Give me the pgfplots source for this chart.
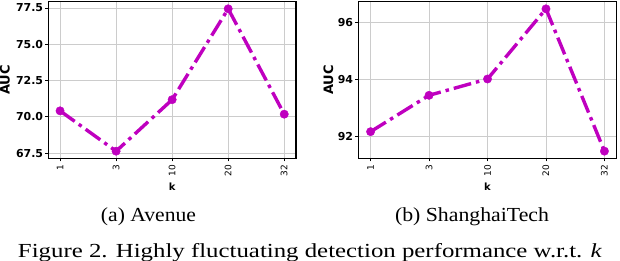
\documentclass[border=0pt]{standalone}
\usepackage{fontspec}
\setmainfont{Liberation Serif}
\newfontfamily\dvs{DejaVu Sans}
\usepackage{graphicx}
\usepackage{pgfplots}
\pgfplotsset{compat=1.18}
\definecolor{mag}{rgb}{0.75,0,0.75}
\pgfplotsset{
  myax/.style={
    scale only axis, height=156.6bp, anchor=south west,
    xmin=-0.21, xmax=4.21, xtick={0,1,2,3,4}, xticklabels={1,3,10,20,32},
    grid=major, major grid style={gray!40, line width=0.7bp},
    axis line style={line width=1.2bp},
    tick style={black, line width=0.7bp}, tick align=outside, major tick length=3bp,
    xtick pos=left, ytick pos=left,
    xticklabel style={font=\dvs\fontsize{9}{9}\selectfont, rotate=90, anchor=east, inner sep=0pt},
    xticklabel shift=3.5bp,
    yticklabel style={font=\dvs\bfseries\fontsize{11}{11}\selectfont, inner sep=0pt},
    yticklabel shift=2bp,
    xlabel={k}, ylabel={AUC},
    xlabel style={font=\dvs\bfseries\fontsize{10}{10}\selectfont, at={([yshift=-28.7bp]axis description cs:0.5,0)}, anchor=center},
    ylabel style={font=\dvs\bfseries\fontsize{13}{13}\selectfont, anchor=center, rotate=0},
    clip=false,
  },
  myplot/.style={mag, line width=3.4bp, dash pattern=on 18bp off 5bp on 3.5bp off 5bp,
    mark=*, mark size=4.2bp, mark options={solid, fill=mag, draw=mag, line width=0.4bp}},
}
\begin{document}
\begin{tikzpicture}[x=1bp,y=1bp]
\useasboundingbox (0,0) rectangle (620,260);
\begin{axis}[myax, at={(48.3bp,101.7bp)}, width=247.7bp,
  ymin=67.14, ymax=77.93,
  ytick={67.5,70,72.5,75,77.5}, yticklabels={67.5,70.0,72.5,75.0,77.5},
  ylabel style={at={([xshift=-43.3bp]axis description cs:0,0.5)}}]
\addplot[myplot] coordinates {(0,70.41) (1,67.63) (2,71.18) (3,77.44) (4,70.18)};
\end{axis}
\begin{axis}[myax, at={(358.3bp,101.7bp)}, width=258.4bp,
  ymin=91.25, ymax=96.72,
  ytick={92,94,96}, yticklabels={92,94,96},
  ylabel style={at={([xshift=-30bp]axis description cs:0,0.5)}}]
\addplot[myplot] coordinates {(0,92.18) (1,93.45) (2,94.02) (3,96.47) (4,91.50)};
\end{axis}
\node[anchor=base, inner sep=0pt] at (148.5,39) {\resizebox{95bp}{\height}{\fontsize{20}{20}\selectfont (a) Avenue}};
\node[anchor=base, inner sep=0pt] at (472,39) {\resizebox{154bp}{\height}{\fontsize{20}{20}\selectfont (b) ShanghaiTech}};
\node[anchor=base, inner sep=0pt] at (310,2.5) {\resizebox{584bp}{\height}{\fontsize{20}{20}\selectfont Figure 2. Highly fluctuating detection performance w.r.t. \textit{k}}};
\end{tikzpicture}
\end{document}
